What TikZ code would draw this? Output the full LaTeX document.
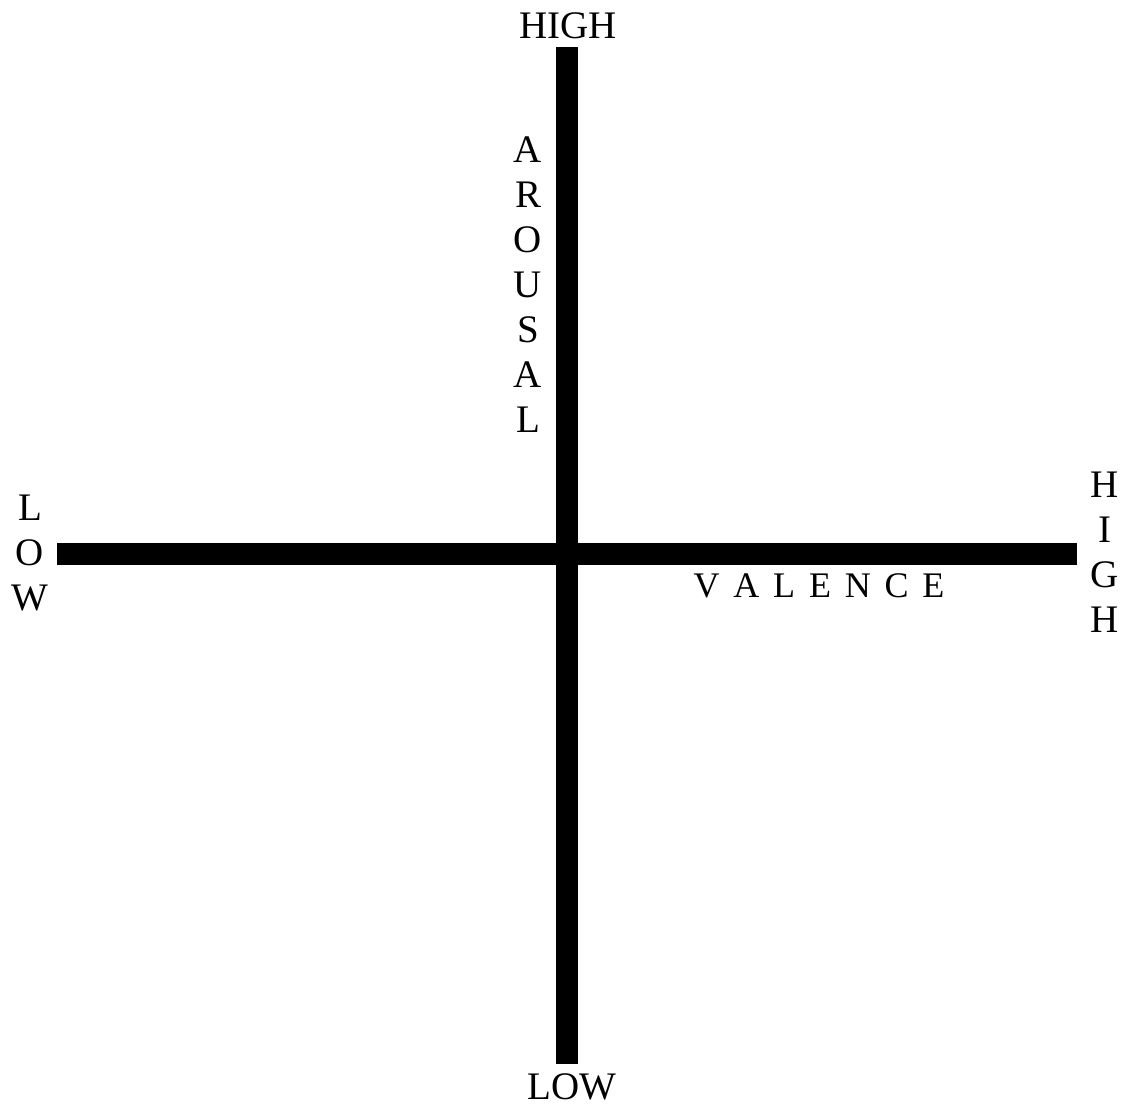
\documentclass[tikz,border=0pt]{standalone}
\usepackage{fontspec}
\setmainfont{Liberation Serif}
\newcommand{\vgap}{\hspace{13.8pt}}
\begin{document}
\begin{tikzpicture}[x=1pt,y=-1pt,
  axisline/.style={line width=22pt,black},
  lbl/.style={inner sep=0pt,font=\fontsize{39}{45}\selectfont,align=center}]
\useasboundingbox (0,0) rectangle (1131,1107);
\coordinate (vtop) at (567,47);
\coordinate (vbot) at (567,1064);
\coordinate (hleft) at (57,553.5);
\coordinate (hright) at (1077,553.5);
\draw[axisline] (vtop) -- (vbot);
\draw[axisline] (hleft) -- (hright);
\node[lbl] (ahigh) at (568,26) {HIGH};
\node[lbl] (alow) at (572,1087) {LOW};
\node[lbl] (arousal) at (528,285) {A\\R\\O\\U\\S\\A\\L};
\node[lbl] (vlow) at (30,553) {L\\O\\W};
\node[lbl] (vhigh) at (1105,552) {H\\I\\G\\H};
\node[lbl,font=\fontsize{36}{40}\selectfont] (valence) at (819,586) {V\vgap A\vgap L\vgap E\vgap N\vgap C\vgap E};
\end{tikzpicture}
\end{document}
